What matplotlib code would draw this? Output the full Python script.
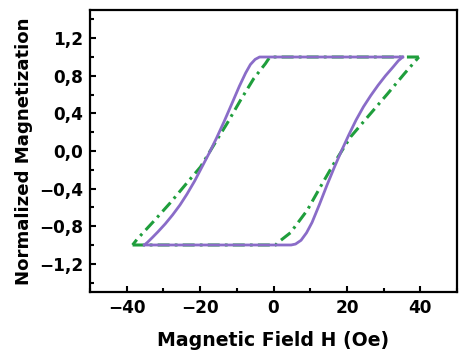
import matplotlib
matplotlib.use("Agg")
import matplotlib.pyplot as plt
from matplotlib.ticker import MultipleLocator, FuncFormatter

plt.rcParams['font.family'] = ['DejaVu Sans']
plt.rcParams['font.weight'] = 'bold'

# Purple (solid) loop
purple_desc_H = [35.2, -3.8, -5.0, -6.3, -7.6, -9.3, -11.5, -13.5, -15.5, -17.5, -19.5, -21.5, -23.6, -25.5, -27.5, -29.5, -31.5, -33.0, -34.3, -35.2]
purple_desc_M = [1.0, 1.0, 0.975, 0.92, 0.83, 0.69, 0.49, 0.31, 0.14, -0.02, -0.17, -0.32, -0.46, -0.575, -0.68, -0.775, -0.86, -0.92, -0.97, -1.0]
purple_asc_H = [-35.2, 4.8, 6.0, 7.5, 9.0, 10.5, 12.5, 14.5, 16.5, 18.5, 20.5, 22.5, 24.5, 26.5, 28.5, 30.5, 32.5, 34.0, 35.2]
purple_asc_M = [-1.0, -1.0, -0.99, -0.95, -0.87, -0.76, -0.57, -0.37, -0.18, 0.0, 0.17, 0.33, 0.47, 0.59, 0.70, 0.80, 0.89, 0.96, 1.0]

# Green (dash-dot) loop
green_desc_H = [39.6, -1.0, -2.2, -5.4, -9.0, -12.7, -15.4, -19.9, -23.6, -28.1, -32.7, -37.2, -38.4]
green_desc_M = [1.0, 1.0, 0.93, 0.77, 0.54, 0.29, 0.12, -0.17, -0.34, -0.55, -0.75, -0.94, -1.0]
green_asc_H = [-38.4, 0.6, 1.0, 4.6, 9.2, 12.8, 16.5, 21.0, 25.6, 31.1, 35.6, 39.6]
green_asc_M = [-1.0, -1.0, -0.98, -0.87, -0.63, -0.38, -0.13, 0.15, 0.36, 0.61, 0.82, 1.0]

x_label = "Magnetic Field H (Oe)"
y_label = "Normalized Magnetization"

purple = '#8a6cc8'
green = '#1f9e3c'

fig = plt.figure(figsize=(4.6, 3.55), dpi=100)
ax = fig.add_axes([0.1957, 0.1775, 0.7978, 0.7943])

dash = (0, (3.9, 1.7, 0.9, 1.7))
ax.plot(green_desc_H, green_desc_M, color=green, lw=2.2, linestyle=dash)
ax.plot(green_asc_H, green_asc_M, color=green, lw=2.2, linestyle=dash)
ax.plot(purple_desc_H, purple_desc_M, color=purple, lw=2.0, solid_joinstyle='round')
ax.plot(purple_asc_H, purple_asc_M, color=purple, lw=2.0, solid_joinstyle='round')

ax.set_xlim(-50, 50)
ax.set_ylim(-1.5, 1.5)
ax.xaxis.set_major_locator(MultipleLocator(20))
ax.xaxis.set_minor_locator(MultipleLocator(10))
ax.yaxis.set_major_locator(MultipleLocator(0.4))
ax.yaxis.set_minor_locator(MultipleLocator(0.2))

def xfmt(v, pos):
    s = f"{v:.0f}"
    return s.replace('-', '\u2212')

def yfmt(v, pos):
    s = f"{v:.1f}".replace('.', ',')
    if s.startswith('-'):
        s = '\u2212' + s[1:]
    return s

ax.xaxis.set_major_formatter(FuncFormatter(xfmt))
ax.yaxis.set_major_formatter(FuncFormatter(yfmt))

ax.tick_params(which='both', direction='in', top=False, right=False, width=1.5)
ax.tick_params(which='major', length=4, labelsize=12.2, pad=5)
ax.tick_params(which='minor', length=3)
for sp in ax.spines.values():
    sp.set_linewidth(1.6)

ax.set_xlabel(x_label, fontsize=13.6, fontweight='bold', labelpad=10)
ax.set_ylabel(y_label, fontsize=13.1, fontweight='bold', labelpad=4)

fig.savefig('out.png', dpi=100)
